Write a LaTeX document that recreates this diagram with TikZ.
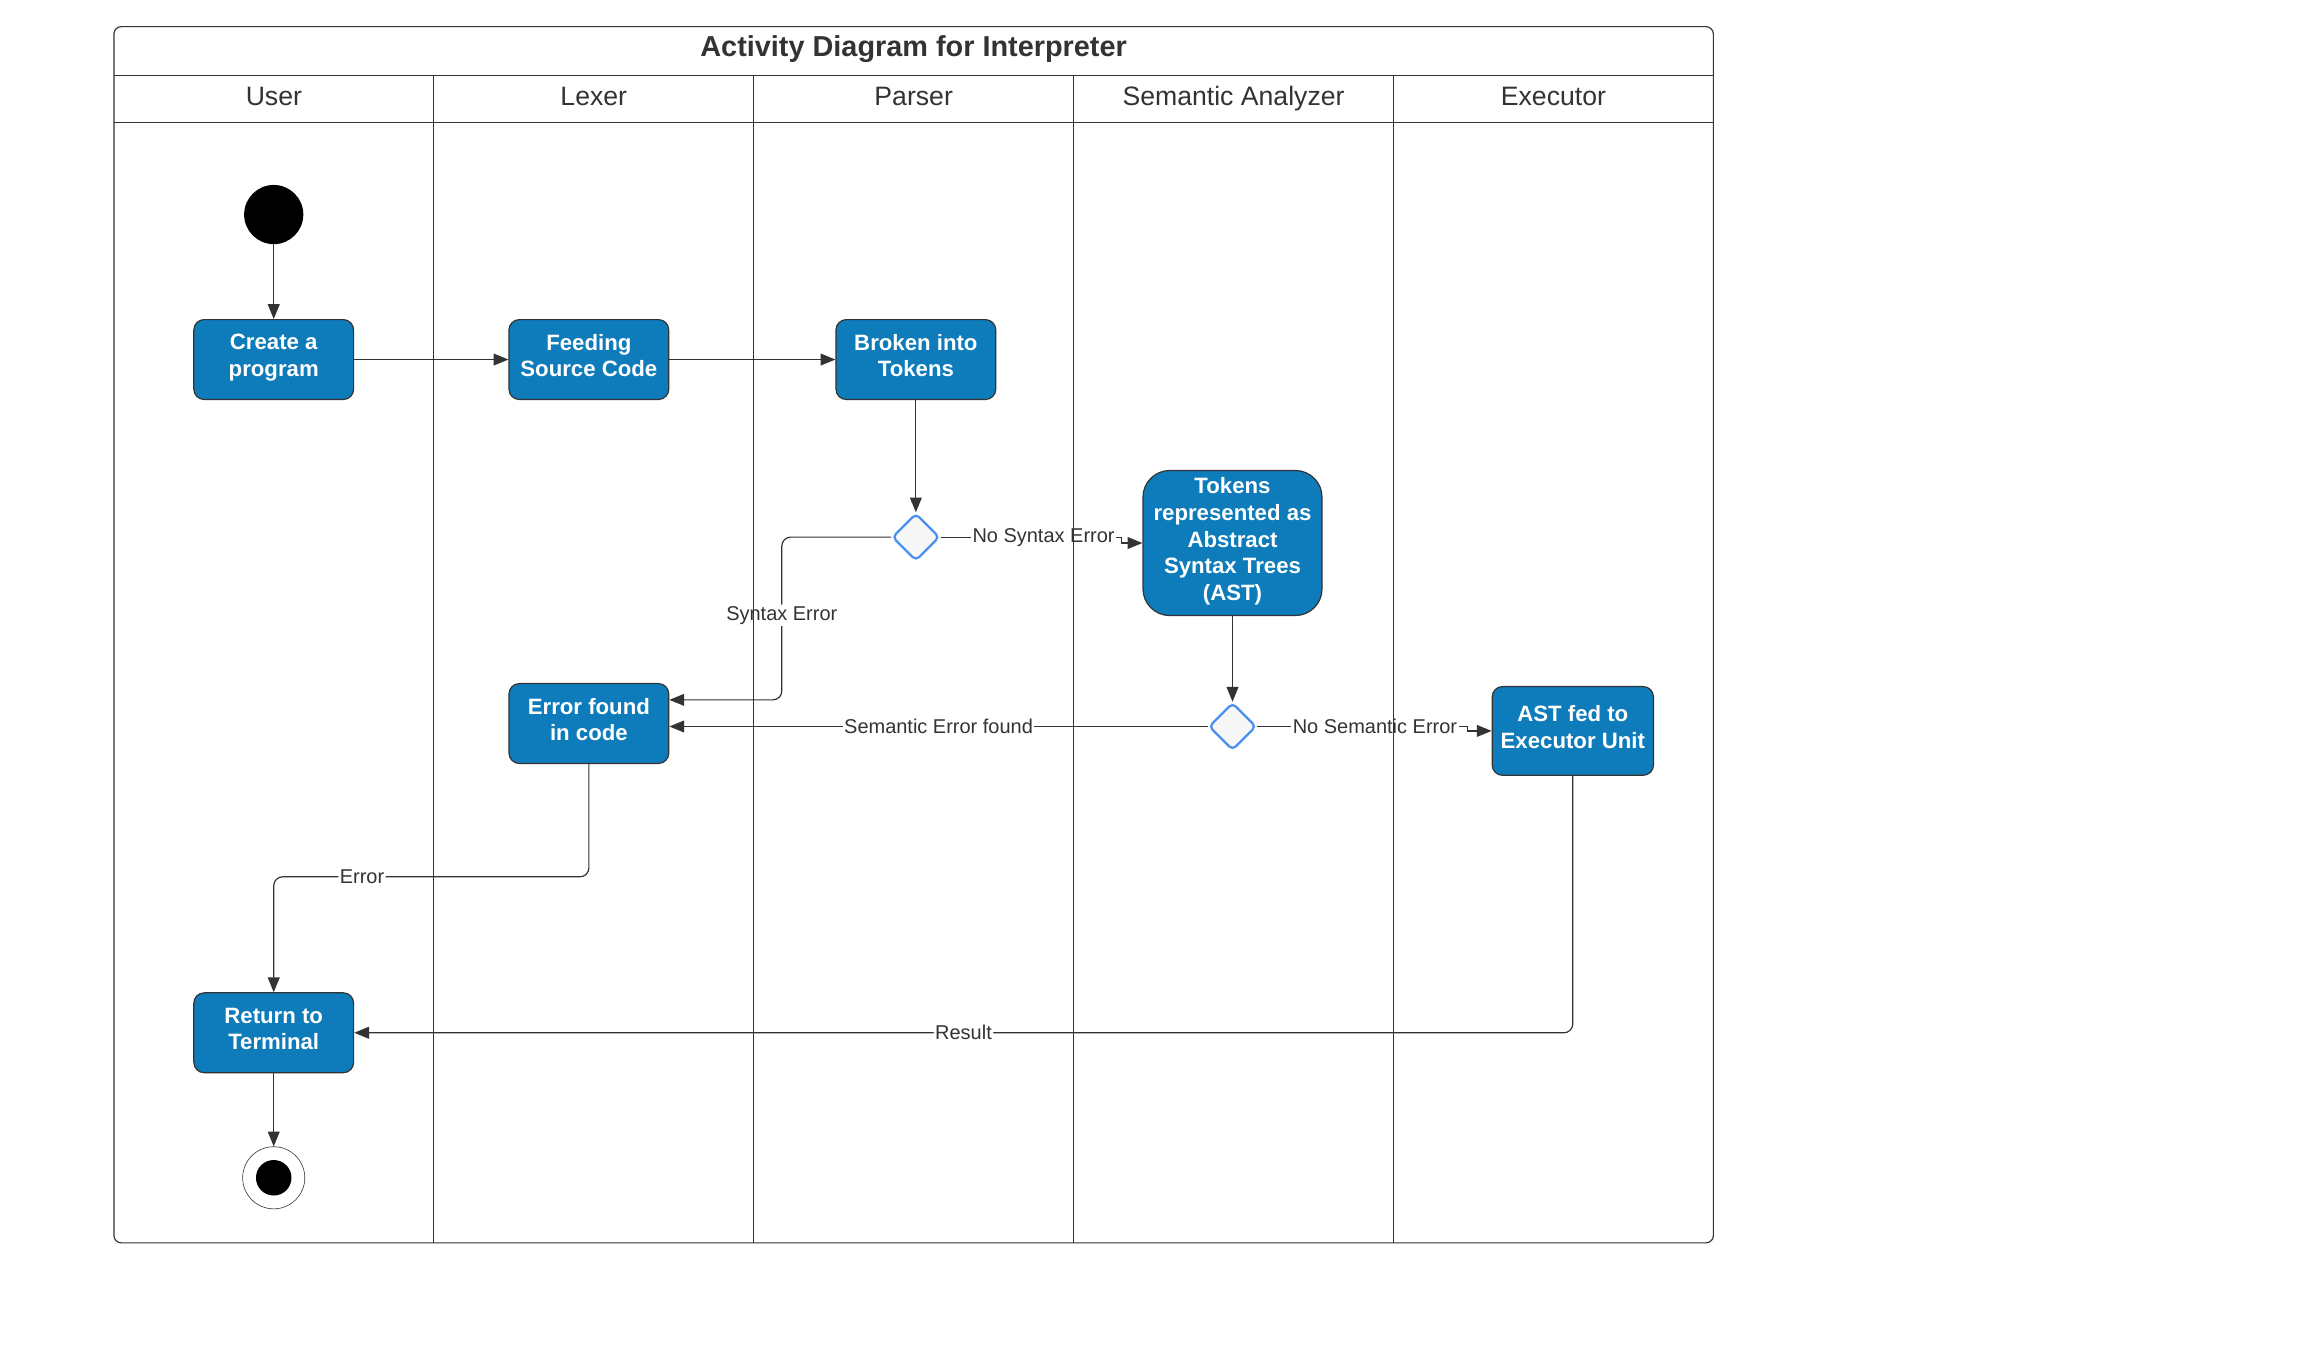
\documentclass[tikz,border=0pt]{standalone}
\usepackage{fontspec}
\setmainfont{Liberation Sans}
\usepackage{tikz}
\usetikzlibrary{shapes.geometric}
\usetikzlibrary{arrows.meta}
\definecolor{actblue}{HTML}{0E7CBA}
\definecolor{decblue}{HTML}{4A90F0}
\definecolor{inkgray}{HTML}{333333}

\begin{document}
\begin{tikzpicture}[x=1pt,y=-1pt,
	box/.style={draw=inkgray,line width=0.8pt,fill=actblue,rounded corners=7pt,text=white,align=center,minimum width=108pt,minimum height=54pt,inner sep=2pt,font=\fontsize{15}{18}\selectfont\bfseries,execute at begin node=\strut,execute at end node=\strut},
	dec/.style={diamond,draw=decblue,line width=1.5pt,fill=black!3,rounded corners=3pt,minimum width=32pt,minimum height=32pt,inner sep=0pt},
	lbl/.style={fill=white,inner sep=1pt,text=inkgray,font=\fontsize{13.5}{16}\selectfont},
	flow/.style={draw=inkgray,line width=0.8pt,-{Triangle[length=10pt,width=8pt]}},
	hd/.style={text=inkgray,font=\fontsize{18}{22}\selectfont,execute at begin node=\strut}]
			\useasboundingbox (0,0) rectangle (1568,919);
			\node[circle,fill=black,minimum size=40pt,inner sep=0pt] (s) at (185,145) {};
			\node[box] (a) at (185,243) {Create a\\program};
			\node[box] (b) at (398,243) {Feeding\\Source Code};
			\node[box] (c) at (619,243) {Broken into\\Tokens};
			\node[dec] (d) at (619,363) {};
			\node[box,minimum width=121pt,minimum height=98pt,rounded corners=18pt] (e) at (833,367) {Tokens\\represented as\\Abstract\\Syntax Trees\\(AST)};
			\node[box] (f) at (398,489) {Error found\\in code};
			\node[dec] (g) at (833,491) {};
			\node[box,minimum width=109pt,minimum height=60pt] (h) at (1063,494) {AST fed to\\Executor Unit};
			\node[box] (i) at (185,698) {Return to\\Terminal};
			\node[circle,draw=inkgray,fill=white,minimum size=42pt,inner sep=0pt] (j) at (185,796) {};
			\node[circle,fill=black,minimum size=24pt,inner sep=0pt] (k) at (j) {};
			\draw[flow] (s) -- (a);
			\draw[flow] (a) -- (b);
			\draw[flow] (b) -- (c);
			\draw[flow] (c) -- (d);
			\draw[flow] (d.east) -- ++(122,0) node[lbl,pos=0.57]{No Syntax Error} |- (e);
			\draw[flow,rounded corners=6pt] (d.west) -| ([xshift=76pt,yshift=16pt]f.east) node[lbl,pos=0.74]{Syntax Error} -- ([yshift=16pt]f.east);
			\draw[flow] (e) -- (g);
			\draw[flow] (g.west) -- node[lbl]{Semantic Error found} (f.east |- g.west);
			\draw[flow] (g.east) -- ++(142,0) node[lbl,pos=0.56]{No Semantic Error} |- (h);
			\draw[flow,rounded corners=6pt] (f.south) |- ([yshift=78pt]i.north) node[lbl,pos=0.86]{Error} -- (i.north);
			\draw[flow,rounded corners=6pt] (h.south) |- node[lbl,pos=0.75]{Result} (i.east);
			\draw[flow] (i) -- (j);
			\draw[inkgray,line width=0.8pt,rounded corners=5pt] (77,18) rectangle (1158,840);
			\draw[inkgray,line width=0.8pt] (77,51) -- (1158,51) (77,83) -- (1158,83);
			\foreach \x in {293.2,509.4,725.6,941.8} \draw[inkgray,line width=0.6pt] (\x,51) -- (\x,840);
			\node[text=inkgray,font=\fontsize{19.5}{23}\selectfont\bfseries] (t) at (617.5,33.5) {Activity Diagram for Interpreter};
			\foreach \l [count=\n] in {User,Lexer,Parser,Semantic Analyzer,Executor} \node[hd] (lane\n) at (77+216.2*\n-108.1,67) {\l};
		\end{tikzpicture}
\end{document}
